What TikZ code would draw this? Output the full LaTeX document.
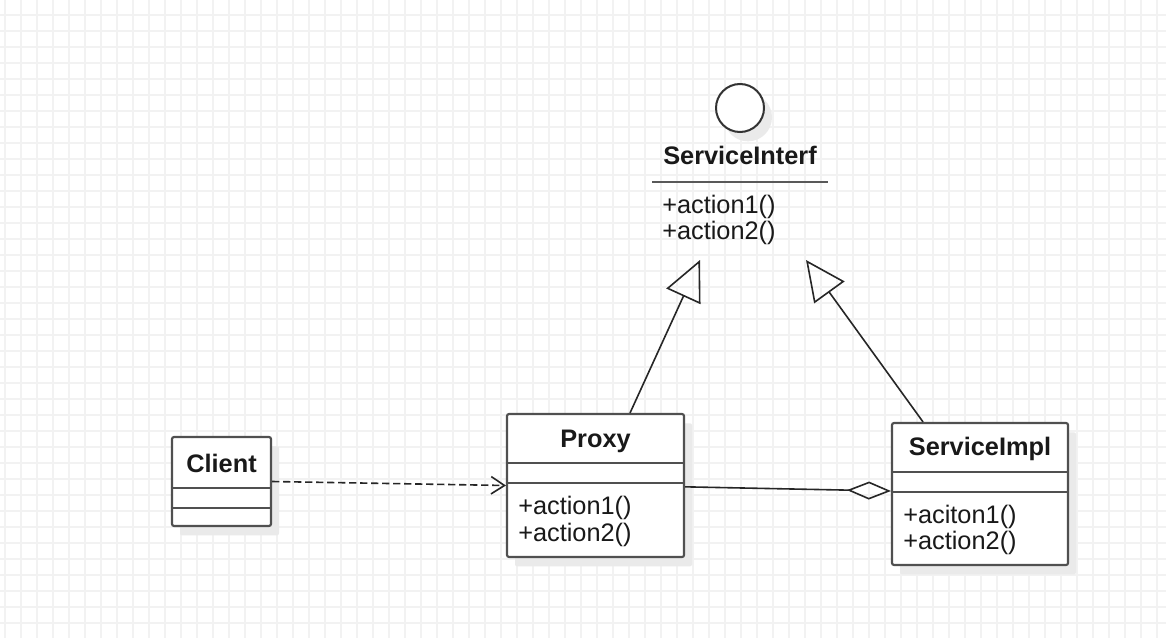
\documentclass[tikz,border=0pt]{standalone}
\usepackage{fontspec}
\setmainfont{Liberation Sans}
\usetikzlibrary{arrows.meta,shadows}
\definecolor{gridc}{RGB}{242,242,242}
\definecolor{boxc}{RGB}{80,80,80}
\definecolor{txtc}{RGB}{25,25,25}
\definecolor{shadc}{RGB}{234,234,234}
\begin{document}
\begin{tikzpicture}[x=0.75pt,y=-0.75pt,
  gridline/.style={draw=gridc,line width=1.1pt},
  cls/.style={draw=boxc,line width=1.6pt,rounded corners=1.5pt,fill=white,inner sep=0pt,
    drop shadow={shadow xshift=6pt,shadow yshift=-7pt,fill=shadc,opacity=1}},
  sep/.style={draw=boxc,line width=1.6pt},
  title/.style={anchor=base,text=txtc,font=\fontsize{19}{23}\selectfont\bfseries,inner sep=0pt},
  member/.style={anchor=base west,text=txtc,font=\fontsize{19}{23}\selectfont,inner sep=0pt},
  conn/.style={draw=black!85,line width=1.2pt},
  realize/.style={conn,-{Triangle[open,length=30pt,width=28pt]}},
  depend/.style={conn,dash pattern=on 5.5pt off 2.75pt,-{Straight Barb[length=10pt,width=13pt]}},
  aggr/.style={conn,{Diamond[open,length=33pt,width=13.5pt]}-}
]
\useasboundingbox (0,0) rectangle (1166,638);
\fill[white] (0,0) rectangle (1166,638);
% grid
\foreach \i in {0,...,72} \draw[gridline] (5+16*\i,0) -- (5+16*\i,638);
\foreach \j in {0,...,40} \draw[gridline] (0,-1+16*\j) -- (1166,-1+16*\j);

% interface
\node[circle,draw=black!80,line width=1.5pt,fill=white,minimum size=36pt,inner sep=0pt,
  drop shadow={shadow xshift=6pt,shadow yshift=-7pt,fill=shadc,opacity=1}] (ifc) at (740,108) {};
\node[title] (ifname) at (740,165) {ServiceInterf};
\coordinate (ifl) at (652,182);
\coordinate (ifr) at (828,182);
\draw[draw=black!65,line width=1.7pt] (ifl) -- (ifr);
\node[member] (ifa1) at (662,213) {+action1()};
\node[member] (ifa2) at (662,239) {+action2()};
\coordinate (tipL) at (700,260);
\coordinate (tipR) at (806,260);

% Client
\node[cls,minimum width=99*0.75pt,minimum height=89*0.75pt] (client) at (221.5,481.5) {};
\draw[sep] (client.west |- 0,488) -- (client.east |- 0,488);
\draw[sep] (client.west |- 0,508) -- (client.east |- 0,508);
\node[title] (clientname) at (221.5,472) {Client};

% Proxy
\node[cls,minimum width=177*0.75pt,minimum height=143*0.75pt] (proxy) at (595.5,485.5) {};
\draw[sep] (proxy.west |- 0,463) -- (proxy.east |- 0,463);
\draw[sep] (proxy.west |- 0,483) -- (proxy.east |- 0,483);
\node[title] (proxyname) at (595.5,447) {Proxy};
\node[member] (pa1) at (518,514) {+action1()};
\node[member] (pa2) at (518,541) {+action2()};

% ServiceImpl
\node[cls,minimum width=176*0.75pt,minimum height=142*0.75pt] (impl) at (980,494) {};
\draw[sep] (impl.west |- 0,472) -- (impl.east |- 0,472);
\draw[sep] (impl.west |- 0,492) -- (impl.east |- 0,492);
\node[title] (implname) at (980,455) {ServiceImpl};
\node[member] (ia1) at (903,523) {+aciton1()};
\node[member] (ia2) at (903,549) {+action2()};

% connectors
\draw[realize] ([xshift=25.9pt]proxy.north) -- (tipL);
\draw[realize] ([xshift=-42.75pt]impl.north) -- (tipR);
\draw[depend] (client.east) -- (proxy.west);
\draw[aggr] ([yshift=2.25pt]impl.west) -- ([yshift=-1pt]proxy.east);
\end{tikzpicture}
\end{document}
